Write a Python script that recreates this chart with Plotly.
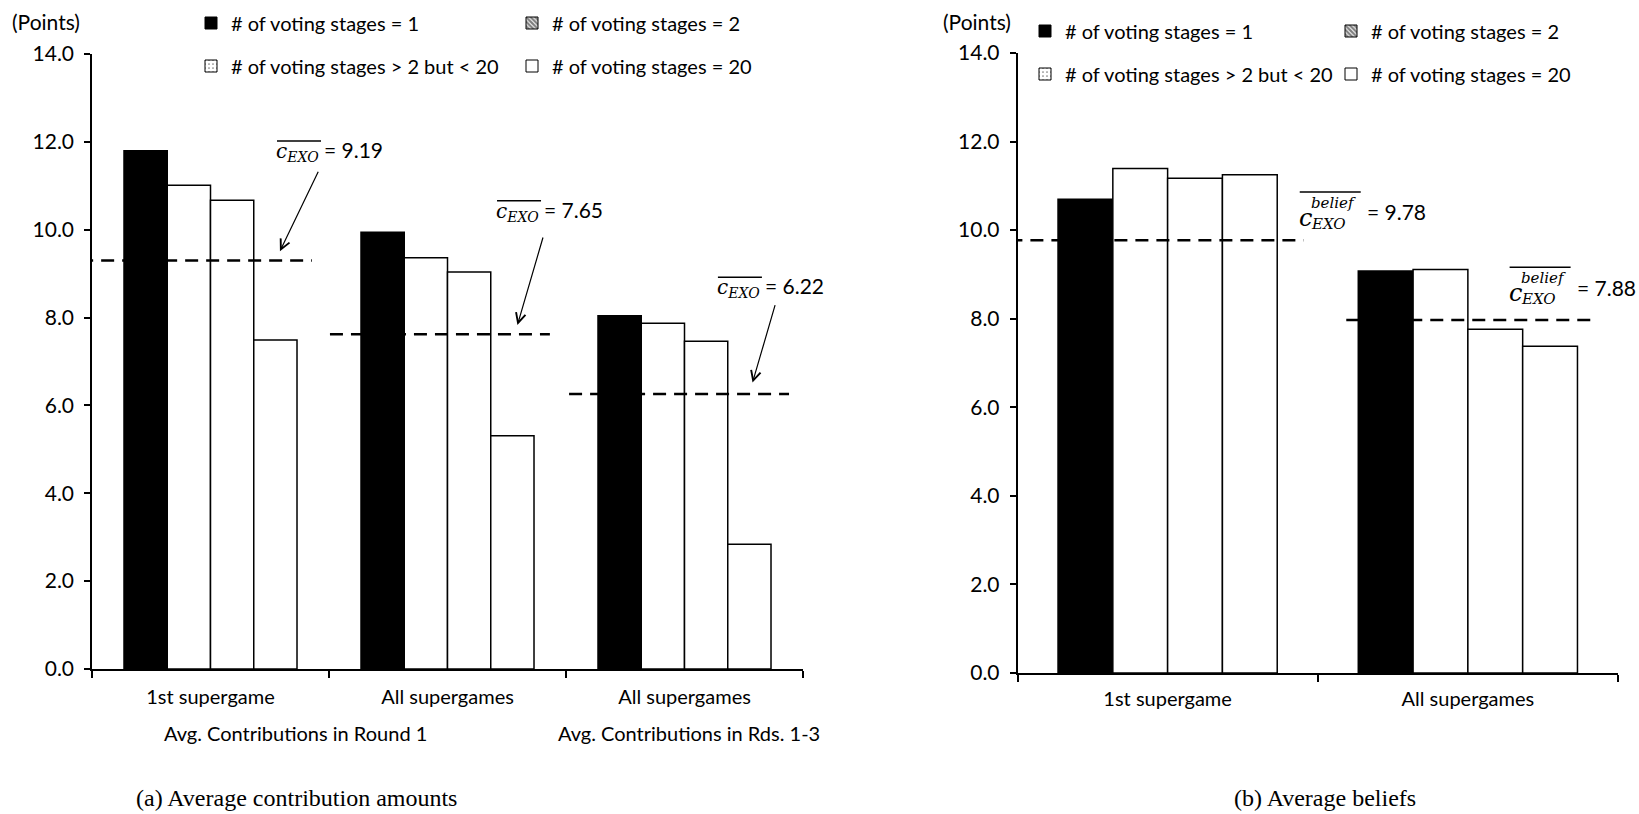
import plotly.graph_objects as go

# ---------------- data ----------------
series_names = ["# of voting stages = 1", "# of voting stages = 2",
                "# of voting stages > 2 but < 20", "# of voting stages = 20"]

contrib_categories = ["1st supergame", "All supergames", "All supergames"]
contrib_stage1 = [11.80, 9.94, 8.04]
contrib_stage2 = [11.01, 9.36, 7.87]
contrib_stage3to19 = [10.67, 9.04, 7.46]
contrib_stage20 = [7.49, 5.31, 2.84]
contrib_exo_level = [9.30, 7.62, 6.26]
contrib_exo_label = ["9.19", "7.65", "6.22"]
contrib_group_labels = ["Avg. Contributions in Round 1", "Avg. Contributions in Rds. 1-3"]

belief_categories = ["1st supergame", "All supergames"]
belief_stage1 = [10.70, 9.08]
belief_stage2 = [11.39, 9.11]
belief_stage3to19 = [11.17, 7.76]
belief_stage20 = [11.25, 7.38]
belief_exo_level = [9.77, 7.97]
belief_exo_label = ["9.78", "7.88"]

y_ticks = [0, 2, 4, 6, 8, 10, 12, 14]
y_unit = "(Points)"
panel_titles = ["(a) Average contribution amounts", "(b) Average beliefs"]

# ---------------- styles / layout helpers ----------------
W, H = 1639, 814
SANS = "Lato"
SERIF_MATH = "DejaVu Serif"
FS = 20
bar_fill = ["black", "white", "white", "white"]
legend_patterns = [dict(shape=""),
                   dict(shape="\\", fgcolor="black", bgcolor="white", size=4, solidity=0.7),
                   dict(shape=".", fgcolor="black", bgcolor="white", size=5, solidity=0.15),
                   dict(shape="")]

def px_x(p):
    return p / W

def px_y(p):
    return 1 - p / H

fig = go.Figure()

contrib_series = [contrib_stage1, contrib_stage2, contrib_stage3to19, contrib_stage20]
belief_series = [belief_stage1, belief_stage2, belief_stage3to19, belief_stage20]

for i, vals in enumerate(contrib_series):
    fig.add_trace(go.Bar(x=list(range(len(contrib_categories))), y=vals, name=series_names[i],
                         marker=dict(color=bar_fill[i], line=dict(color="black", width=1.5)),
                         offsetgroup=str(i), showlegend=False, xaxis="x", yaxis="y"))
for i, vals in enumerate(belief_series):
    fig.add_trace(go.Bar(x=list(range(len(belief_categories))), y=vals, name=series_names[i],
                         marker=dict(color=bar_fill[i], line=dict(color="black", width=1.5)),
                         offsetgroup=str(i), showlegend=False, xaxis="x2", yaxis="y2"))

# legend-only entries (pattern swatches as in the original legend)
legend_ids_left = ["legend", "legend", "legend2", "legend2"]
legend_ids_right = ["legend3", "legend3", "legend4", "legend4"]
for i in range(4):
    fig.add_trace(go.Bar(x=[None], y=[None], name=series_names[i],
                         marker=dict(color=bar_fill[i], line=dict(color="black", width=1),
                                     pattern=legend_patterns[i]),
                         offsetgroup=str(i), legend=legend_ids_left[i], xaxis="x", yaxis="y"))
for i in range(4):
    fig.add_trace(go.Bar(x=[None], y=[None], name=series_names[i],
                         marker=dict(color=bar_fill[i], line=dict(color="black", width=1),
                                     pattern=legend_patterns[i]),
                         offsetgroup=str(i), legend=legend_ids_right[i], xaxis="x2", yaxis="y2"))

axis_line = dict(showline=True, linecolor="black", linewidth=1.5, showgrid=False, zeroline=False)
xtick_font = dict(family=SANS, size=FS, color="black")
ytick_font = dict(family=SANS, size=21, color="black")

fig.update_layout(
    width=W, height=H, margin=dict(l=0, r=0, t=0, b=0, autoexpand=False),
    paper_bgcolor="white", plot_bgcolor="white",
    font=dict(family=SANS, size=FS, color="black"),
    barmode="group", bargap=0.27, bargroupgap=0,
    xaxis=dict(domain=[px_x(92), px_x(803)], range=[-0.5, 2.5], anchor="y",
               tickmode="array", tickvals=list(range(len(contrib_categories))), ticktext=contrib_categories,
               ticks="", ticklabelstandoff=9, tickfont=xtick_font,
               minor=dict(tickvals=[-0.5, 0.5, 1.5, 2.5], ticks="outside", ticklen=7, tickwidth=1.5,
                          tickcolor="black", showgrid=False),
               **axis_line),
    yaxis=dict(domain=[px_y(669), px_y(54)], range=[0, 14], anchor="x",
               tickmode="array", tickvals=y_ticks, tickformat=".1f", tickfont=ytick_font,
               ticks="outside", ticklen=6, tickwidth=1.5, tickcolor="black", ticklabelstandoff=6,
               **axis_line),
    xaxis2=dict(domain=[px_x(1017.5), px_x(1618)], range=[-0.5, 1.5], anchor="y2",
                tickmode="array", tickvals=list(range(len(belief_categories))), ticktext=belief_categories,
                ticks="", ticklabelstandoff=7, tickfont=xtick_font,
                minor=dict(tickvals=[-0.5, 0.5, 1.5], ticks="outside", ticklen=7, tickwidth=1.5,
                           tickcolor="black", showgrid=False),
                **axis_line),
    yaxis2=dict(domain=[px_y(673), px_y(53)], range=[0, 14], anchor="x2",
                tickmode="array", tickvals=y_ticks, tickformat=".1f", tickfont=ytick_font,
                ticks="outside", ticklen=6, tickwidth=1.5, tickcolor="black", ticklabelstandoff=6,
                **axis_line),
)

legend_common = dict(orientation="h", xanchor="left", yanchor="middle", bgcolor="rgba(0,0,0,0)",
                     font=dict(family=SANS, size=FS, color="black"), entrywidthmode="pixels",
                     itemwidth=30, traceorder="normal", borderwidth=0)
fig.update_layout(
    legend=dict(x=px_x(191), y=px_y(23), entrywidth=276, **legend_common),
    legend2=dict(x=px_x(191), y=px_y(66), entrywidth=276, **legend_common),
    legend3=dict(x=px_x(1025), y=px_y(31), entrywidth=261, **legend_common),
    legend4=dict(x=px_x(1025), y=px_y(74), entrywidth=261, **legend_common),
)

# dashed reference lines (spans in category units)
contrib_line_spans = [(-0.55, 0.428), (0.504, 1.432), (1.513, 2.441)]
belief_line_spans = [(-0.527, 0.453), (0.595, 1.42)]
dash_style = dict(color="black", width=2.5, dash="13px,8px")
for (x0, x1), lvl in zip(contrib_line_spans, contrib_exo_level):
    fig.add_shape(type="line", xref="x", yref="y", x0=x0, x1=x1, y0=lvl, y1=lvl, line=dash_style)
for (x0, x1), lvl in zip(belief_line_spans, belief_exo_level):
    fig.add_shape(type="line", xref="x2", yref="y2", x0=x0, x1=x1, y0=lvl, y1=lvl, line=dash_style)

# arrows (left panel): head position in data coords, tail offset in pixels
contrib_arrows = [(0.293, 9.51, 39, -81), (1.295, 7.83, 26, -89), (2.287, 6.52, 23, -79)]
for hx, hy, ax, ay in contrib_arrows:
    fig.add_annotation(xref="x", yref="y", x=hx, y=hy, ax=ax, ay=ay, text="", showarrow=True,
                       arrowhead=5, arrowsize=1.6, arrowwidth=1.2, arrowcolor="black", standoff=0)

# c_EXO labels (left panel)
contrib_label_anchor = [(0.2806, 11.77), (1.209, 10.41), (2.141, 8.67)]
for (lx, ly), lab in zip(contrib_label_anchor, contrib_exo_label):
    fig.add_annotation(xref="x", yref="y", x=lx, y=ly, xanchor="left", yanchor="middle", showarrow=False,
                       xshift=-3, yshift=1,
                       text=(f'<span style="font-family:{SERIF_MATH};font-size:20px"><i>c</i>'
                             f'<sub><i>EXO</i></sub></span> = {lab}'),
                       font=dict(family=SANS, size=21, color="black"))
    fig.add_shape(type="line", xref="x", yref="y", xsizemode="pixel", ysizemode="pixel",
                  xanchor=lx, yanchor=ly, x0=0, x1=44, y0=11, y1=11, line=dict(color="black", width=1.5))

# c^belief_EXO labels (right panel)
belief_label_anchor = [(0.440, 10.23), (1.139, 8.53)]
for (lx, ly), lab in zip(belief_label_anchor, belief_exo_label):
    fig.add_annotation(xref="x2", yref="y2", x=lx, y=ly, xanchor="left", yanchor="middle", showarrow=False,
                       xshift=-3, yshift=2, text="<i>c</i>", font=dict(family=SERIF_MATH, size=24, color="black"))
    fig.add_annotation(xref="x2", yref="y2", x=lx, y=ly, xanchor="left", yanchor="middle", showarrow=False,
                       xshift=9, yshift=17, text="<i>belief</i>",
                       font=dict(family=SERIF_MATH, size=15, color="black"))
    fig.add_annotation(xref="x2", yref="y2", x=lx, y=ly, xanchor="left", yanchor="middle", showarrow=False,
                       xshift=9, yshift=-4, text="<i>EXO</i>",
                       font=dict(family=SERIF_MATH, size=15, color="black"))
    fig.add_annotation(xref="x2", yref="y2", x=lx, y=ly, xanchor="left", yanchor="middle", showarrow=False,
                       xshift=65, yshift=8, text=f"= {lab}",
                       font=dict(family=SANS, size=21, color="black"))
    fig.add_shape(type="line", xref="x2", yref="y2", xsizemode="pixel", ysizemode="pixel",
                  xanchor=lx, yanchor=ly, x0=0, x1=61, y0=28, y1=28, line=dict(color="black", width=1.5))

# group labels under the left panel
contrib_group_label_pos = [0.357, 2.02]
for gx, txt in zip(contrib_group_label_pos, contrib_group_labels):
    fig.add_annotation(xref="x", yref="paper", x=gx, y=px_y(733), text=txt, showarrow=False,
                       xanchor="center", yanchor="middle", font=dict(family=SANS, size=FS, color="black"))

# unit labels
for xp in (10, 941):
    fig.add_annotation(xref="paper", yref="paper", x=px_x(xp), y=px_y(21), text=y_unit, showarrow=False,
                       xanchor="left", yanchor="middle", font=dict(family=SANS, size=21, color="black"))

# panel captions
for xp, txt in zip((296, 1325), panel_titles):
    fig.add_annotation(xref="paper", yref="paper", x=px_x(xp), y=px_y(798), text=txt, showarrow=False,
                       xanchor="center", yanchor="middle",
                       font=dict(family="Liberation Serif", size=24, color="black"))

fig.write_html("out.html", config={"displayModeBar": False},
               post_script="document.body.style.margin='0px';")
